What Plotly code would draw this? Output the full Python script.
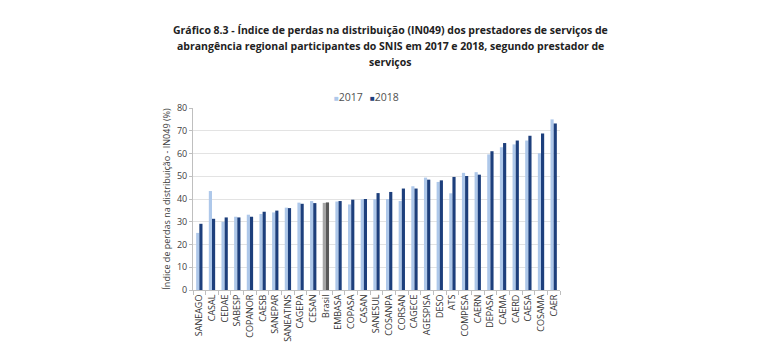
import plotly.graph_objects as go

categories = ["SANEAGO", "CASAL", "CEDAE", "SABESP", "COPANOR", "CAESB", "SANEPAR",
              "SANEATINS", "CAGEPA", "CESAN", "Brasil", "EMBASA", "COPASA", "CASAN",
              "SANESUL", "COSANPA", "CORSAN", "CAGECE", "AGESPISA", "DESO", "ATS",
              "COMPESA", "CAERN", "DEPASA", "CAEMA", "CAERD", "CAESA", "COSAMA", "CAER"]
values_2017 = [25.1, 43.5, 30.0, 32.2, 33.1, 33.4, 34.1, 36.2, 38.4, 39.1, 38.3, 38.9,
               37.6, 39.9, 39.9, 40.0, 39.1, 45.6, 49.4, 47.5, 42.5, 51.5, 51.8, 59.6,
               62.8, 64.0, 65.7, 60.1, 75.0]
values_2018 = [29.1, 31.3, 31.9, 31.9, 32.2, 34.4, 34.9, 36.0, 37.9, 38.2, 38.5, 39.1,
               39.7, 40.0, 42.6, 43.1, 44.6, 44.6, 48.5, 48.2, 49.7, 50.1, 50.7, 61.0,
               64.6, 65.7, 67.8, 68.8, 73.2]
y_ticks = [0, 10, 20, 30, 40, 50, 60, 70, 80]
series_names = ["2017", "2018"]
title_lines = [
    "Gráfico 8.3 - Índice de perdas na distribuição (IN049) dos prestadores de serviços de",
    "abrangência regional participantes do SNIS em 2017 e 2018, segundo prestador de",
    "serviços",
]

COL17, COL18 = "#aec8ea", "#1d3f7c"
c17 = ["#a6a6a6" if c == "Brasil" else COL17 for c in categories]
c18 = ["#595959" if c == "Brasil" else COL18 for c in categories]

fig = go.Figure()
fig.add_trace(go.Bar(name=series_names[0], x=categories, y=values_2017,
                     marker=dict(color=c17, line_width=0), showlegend=False))
fig.add_trace(go.Bar(name=series_names[1], x=categories, y=values_2018,
                     marker=dict(color=c18, line_width=0), showlegend=False))

W, H = 780, 354
L, R, T, B = 193, 220, 108, 64
PW, PH = W - L - R, H - T - B

def px_x(x):
    return (x - L) / PW

def px_y(y):
    return (H - B - y) / PH

for line, yc in zip(title_lines, [30, 46, 61.5]):
    fig.add_annotation(text="<b>" + line + "</b>", xref="paper", yref="paper",
                       x=px_x(390), xanchor="center", y=px_y(yc), yanchor="middle",
                       showarrow=False,
                       font=dict(family="Open Sans", size=10.5, color="#222222"))

# compact legend (small square + label), as in the reference
for name, col, xl in zip(series_names, [COL17, COL18], [332, 368]):
    fig.add_annotation(
        text=f'<span style="color:{col};font-size:8px">■</span>{name}',
        xref="paper", yref="paper", x=px_x(xl), xanchor="left",
        y=px_y(97), yanchor="middle", showarrow=False,
        font=dict(family="Open Sans", size=10.5, color="#505050"))

fig.update_layout(
    width=W, height=H,
    margin=dict(l=L, r=R, t=T, b=B),
    paper_bgcolor="white", plot_bgcolor="white",
    barmode="group", bargap=0.5, bargroupgap=0.0,
    font=dict(family="Open Sans", color="#404040", size=9),
    showlegend=False,
)
fig.update_yaxes(
    range=[0, 80], tickvals=y_ticks, ticktext=[str(t) for t in y_ticks],
    showgrid=True, gridcolor="#e3e3e3", gridwidth=1,
    showline=True, linecolor="#bfbfbf", linewidth=1,
    ticks="outside", ticklen=3, tickcolor="#bfbfbf",
    zeroline=False,
    tickfont=dict(size=9, color="#404040"),
    title=dict(text="Índice de perdas na distribuição - IN049 (%)",
               font=dict(size=9, color="#404040"), standoff=4),
)
fig.update_xaxes(
    tickangle=-90, tickfont=dict(size=9, color="#333333"),
    showline=True, linecolor="#bfbfbf", linewidth=1,
    ticks="outside", ticklen=4, tickcolor="#bfbfbf", tickson="boundaries",
    showgrid=False,
)

fig.write_html("out.html")
